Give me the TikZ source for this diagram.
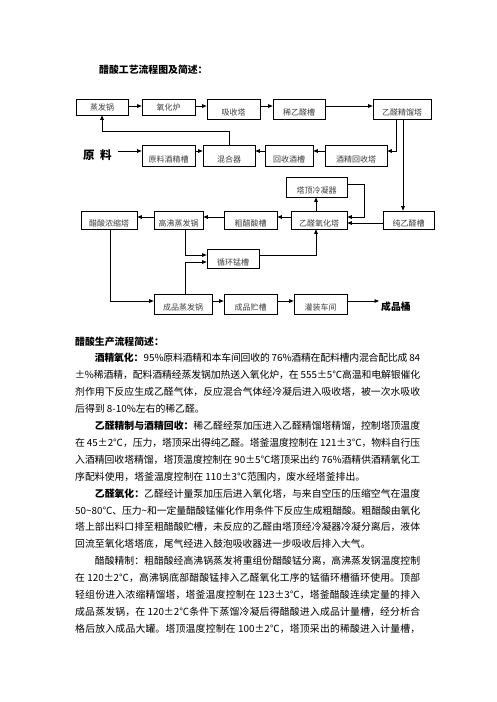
\documentclass[tikz,border=0pt]{standalone}
\usepackage{fontspec}
\newfontfamily\cjk{Noto Sans CJK SC}
\usetikzlibrary{arrows.meta,calc}
\XeTeXlinebreaklocale "zh"
\XeTeXlinebreakskip=0pt plus 1pt minus 0.3pt
\tolerance=9999
\hbadness=10000
\begin{document}
\begin{tikzpicture}[x=1pt,y=-1pt]
\tikzset{
 bx/.style={draw, line width=0.7pt, inner sep=0pt, font=\cjk\fontsize{8}{9}\selectfont, text=black!75},
 lo/.style={text height=13pt, text depth=0pt},
 mid/.style={text height=6pt, text depth=0pt},
 arr/.style={line width=0.7pt, -{Triangle[length=4.5pt,width=3.6pt]}},
 ln/.style={line width=0.7pt},
 boldlbl/.style={inner sep=0pt, anchor=base west, font=\cjk\bfseries\fontsize{9.85}{12}\selectfont}
}
\fill[white] (0,0) rectangle (496,702);
\useasboundingbox (0,0) rectangle (496,702);

% title
\node[boldlbl] (title) at (99,73.7) {醋酸工艺流程图及简述：};

% row 1
\node[bx,mid,minimum width=52pt,minimum height=16pt] (evap) at (102,107) {蒸发锅};
\node[bx,mid,minimum width=53pt,minimum height=16pt] (oxf) at (168.5,107) {氧化炉};
\node[bx,lo,minimum width=53pt,minimum height=20pt] (absorb) at (233.5,109) {吸收塔};
\node[bx,lo,minimum width=52pt,minimum height=20pt] (dilute) at (299,109) {稀乙醛槽};
\node[bx,lo,minimum width=58pt,minimum height=20pt] (rect) at (402,109) {乙醛精馏塔};

% row 2
\node[anchor=base west, inner sep=2pt, font=\cjk\bfseries\fontsize{11.5}{13}\selectfont] (rawlbl) at (81,159.4) {原\hspace{5.5pt}料};
\node[bx,lo,minimum width=53pt,minimum height=21pt] (raw) at (168.5,155.5) {原料酒精槽};
\node[bx,lo,minimum width=52pt,minimum height=21pt] (mix) at (229,155.5) {混合器};
\node[bx,lo,minimum width=48pt,minimum height=21pt] (recalc) at (289,155.5) {回收酒槽};
\node[bx,lo,minimum width=62pt,minimum height=21pt] (recol) at (356,155.5) {酒精回收塔};

% row 3
\node[bx,lo,minimum width=61pt,minimum height=20pt] (cond) at (316.5,187) {塔顶冷凝器};
\node[bx,lo,minimum width=56pt,minimum height=18pt] (conc) at (109,220) {醋酸浓缩塔};
\node[bx,lo,minimum width=49pt,minimum height=18pt] (hbe) at (178.5,220) {高沸蒸发锅};
\node[bx,lo,minimum width=53pt,minimum height=18pt] (crude) at (250.5,220) {粗醋酸槽};
\node[bx,lo,minimum width=56pt,minimum height=18pt] (oxt) at (319,220) {乙醛氧化塔};
\node[bx,lo,minimum width=51pt,minimum height=18pt] (pure) at (408.5,220) {纯乙醛槽};
\node[bx,lo,minimum width=52pt,minimum height=19pt] (mn) at (233,258.5) {循环锰槽};

% row 4
\node[bx,lo,minimum width=58pt,minimum height=20pt] (pev) at (183,304) {成品蒸发锅};
\node[bx,lo,minimum width=53pt,minimum height=20pt] (pst) at (250.5,304) {成品贮槽};
\node[bx,lo,minimum width=53pt,minimum height=20pt] (fill) at (320.5,304) {灌装车间};
\node[boldlbl, inner sep=2pt] (prodlbl) at (379,310.2) {成品桶};

% connectors row 1
\draw[arr] ([yshift=1pt]evap.east) -- ([yshift=1pt]oxf.west);
\draw[arr] ([yshift=1pt]oxf.east) -- ([yshift=3pt]absorb.west);
\draw[arr] ([yshift=3pt]absorb.east) -- ([yshift=3pt]dilute.west);
\draw[arr] ([yshift=3pt]dilute.east) -- ([yshift=3pt]rect.west);

% connectors row 2
\draw[arr] ($(rawlbl.east |- raw.west)+(4,-4.5)$) -- ([yshift=4.5pt]raw.west);
\draw[arr] ([yshift=4.5pt]raw.east) -- ([yshift=4.5pt]mix.west);
\draw[arr] ([yshift=4.5pt]recalc.west) -- ([yshift=4.5pt]mix.east);
\draw[arr] ([yshift=4.5pt]recol.west) -- ([yshift=4.5pt]recalc.east);
\draw[arr] ([xshift=-6pt]rect.south) |- ([yshift=4.5pt]recol.east);
\draw[arr] (mix.north) -- ++(0,-13) -| (evap.south);
\draw[arr] ([xshift=1pt]rect.south) -- ([xshift=1pt]rect.south |- pure.north);

% connectors row 3
\draw[arr] ([yshift=3pt]oxt.west) -- ([yshift=3pt]crude.east);
\draw[arr] ([yshift=3pt]crude.west) -- ([yshift=3pt]hbe.east);
\draw[arr] ([yshift=3pt]hbe.west) -- ([yshift=3pt]conc.east);
\draw[arr] ([yshift=-3pt]pure.west) -- ([yshift=-3pt]oxt.east);
\draw[arr] ([xshift=-3pt]oxt.north) -- ([xshift=-3pt]oxt.north |- cond.south);
\draw[arr] ([yshift=3pt]cond.east) -- ++(17,0) |- ([yshift=3pt]oxt.east);
\draw[arr] ([yshift=3.5pt]mn.east) -| ([xshift=-3pt]oxt.south);
\draw[arr] ([xshift=6.5pt]hbe.south) |- ([yshift=3.5pt]mn.west);
\draw[arr] ([xshift=2pt]pev.north) |- ([yshift=-3.5pt]mn.west);
\draw[arr] ([xshift=1pt]conc.south) |- ([yshift=3pt]pev.west);

% connectors row 4
\draw[arr] ([yshift=3pt]pev.east) -- ([yshift=3pt]pst.west);
\draw[arr] ([yshift=3pt]pst.east) -- ([yshift=3pt]fill.west);
\draw[arr] ([yshift=3pt]fill.east) -- ([yshift=3pt]fill.east -| prodlbl.west);

% body text
\node[anchor=north west, inner sep=0pt, text width=345pt, align=justify,
      font=\cjk\fontsize{9.85}{16.9}\selectfont] (body) at (75,334.8) {%
\vrule height 10pt depth 0pt width 0pt{\bfseries 醋酸生产流程简述：}\par
\hspace*{19.7pt}{\bfseries 酒精氧化：}95\%原料酒精和本车间回收的 76\%酒精在配料槽内混合配比成 84\linebreak
±\%稀酒精，配料酒精经蒸发锅加热送入氧化炉，在 555±5℃高温和电解银催化\linebreak
剂作用下反应生成乙醛气体，反应混合气体经冷凝后进入吸收塔，被一次水吸收\linebreak
后得到 8-10\%左右的稀乙醛。\par
\hspace*{19.7pt}{\bfseries 乙醛精制与酒精回收：}稀乙醛经泵加压进入乙醛精馏塔精馏，控制塔顶温度\linebreak
在 45±2℃，压力，塔顶采出得纯乙醛。塔釜温度控制在 121±3℃，物料自行压\linebreak
入酒精回收塔精馏，塔顶温度控制在 90±5℃塔顶采出约 76\%酒精供酒精氧化工\linebreak
序配料使用，塔釜温度控制在 110±3℃范围内，废水经塔釜排出。\par
\hspace*{19.7pt}{\bfseries 乙醛氧化：}乙醛经计量泵加压后进入氧化塔，与来自空压的压缩空气在温度\linebreak
50\textasciitilde 80℃、压力\textasciitilde 和一定量醋酸锰催化作用条件下反应生成粗醋酸。粗醋酸由氧化\linebreak
塔上部出料口排至粗醋酸贮槽，未反应的乙醛由塔顶经冷凝器冷凝分离后，液体\linebreak
回流至氧化塔塔底，尾气经进入鼓泡吸收器进一步吸收后排入大气。\par
\hspace*{19.7pt}醋酸精制：粗醋酸经高沸锅蒸发将重组份醋酸锰分离，高沸蒸发锅温度控制\linebreak
在 120±2℃，高沸锅底部醋酸锰排入乙醛氧化工序的锰循环槽循环使用。顶部\linebreak
轻组份进入浓缩精馏塔，塔釜温度控制在 123±3℃，塔釜醋酸连续定量的排入\linebreak
成品蒸发锅，在 120±2℃条件下蒸馏冷凝后得醋酸进入成品计量槽，经分析合\linebreak
格后放入成品大罐。塔顶温度控制在 100±2℃，塔顶采出的稀酸进入计量槽，\parfillskip=0pt\par};
\end{tikzpicture}
\end{document}
